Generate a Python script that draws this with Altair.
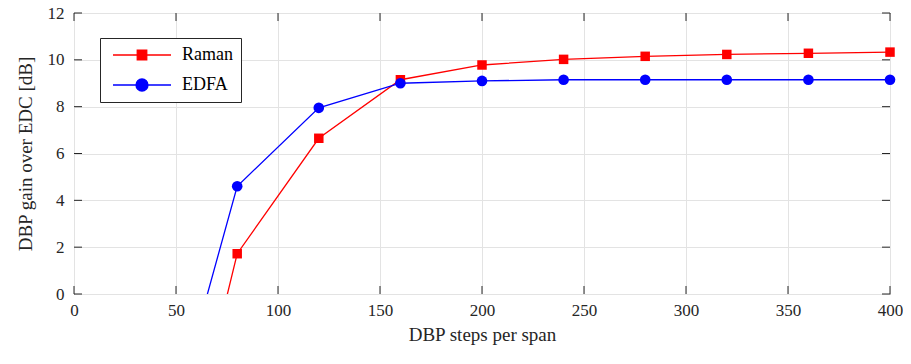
import altair as alt
import pandas as pd

steps = [40, 80, 120, 160, 200, 240, 280, 320, 360, 400]
raman = [-12.6, 1.72, 6.65, 9.15, 9.78, 10.02, 10.15, 10.23, 10.28, 10.33]
edfa = [-8.0, 4.6, 7.95, 9.0, 9.1, 9.15, 9.15, 9.15, 9.15, 9.15]
series = ["Raman", "EDFA"]
colors = ["#ff0000", "#0000ff"]
x_ticks = [0, 50, 100, 150, 200, 250, 300, 350, 400]
y_ticks = [0, 2, 4, 6, 8, 10, 12]

rows = []
for s, vals in zip(series, [raman, edfa]):
    for x, v in zip(steps, vals):
        rows.append({"steps": x, "gain": v, "series": s, "label": s})
df = pd.DataFrame(rows)

W, H = 816, 281
FONT = "Liberation Serif"
LFONT = "Times New Roman"
TXT = "#262626"

xs = alt.Scale(domain=[0, 400], nice=False)
ys = alt.Scale(domain=[0, 12], nice=False)

xaxis = alt.Axis(values=x_ticks, title="DBP steps per span", tickSize=0, domain=False,
                 labelPadding=8, titlePadding=7, grid=True, labelFlush=False,
                 labelFont=LFONT, labelFontSize=17, labelFontWeight="normal", titleFont=FONT)
yaxis = alt.Axis(values=y_ticks, title="DBP gain over EDC [dB]", tickSize=0, domain=False,
                 labelPadding=10, titlePadding=12, grid=True, labelFlush=False,
                 labelFont=LFONT, labelFontSize=17, labelFontWeight="normal", titleFont=FONT)

base = alt.Chart(df)

lines = base.mark_line(clip=True, strokeWidth=1.3).encode(
    x=alt.X("steps:Q", scale=xs, axis=xaxis),
    y=alt.Y("gain:Q", scale=ys, axis=yaxis),
    color=alt.Color("series:N", scale=alt.Scale(domain=series, range=colors), legend=None),
    detail="series:N",
)

pts = base.transform_filter(alt.datum.gain >= 0).mark_point(filled=True, opacity=1).encode(
    x=alt.X("steps:Q", scale=xs),
    y=alt.Y("gain:Q", scale=ys),
    color=alt.Color("series:N", scale=alt.Scale(domain=series, range=colors), legend=None),
    shape=alt.Shape("series:N", scale=alt.Scale(domain=series, range=["square", "circle"]), legend=None),
    size=alt.Size("series:N", scale=alt.Scale(domain=series, range=[90, 113]), legend=None),
)

sq = "M-5.8,0H5.8M-0.95,-0.95H0.95V0.95H-0.95Z"
ci = "M-5.8,0H5.8M1.2,0A1.2,1.2 0 1,1 -1.2,0A1.2,1.2 0 1,1 1.2,0Z"

leg = alt.Legend(title=None, orient="none", legendX=26, legendY=25,
                 fillColor="white", strokeColor="#262626", padding=8,
                 symbolSize=100, symbolOffset=25, labelOffset=31,
                 rowPadding=12, symbolOpacity=1, symbolStrokeWidth=1.3,
                 labelFont=LFONT, labelFontSize=18, labelFontWeight="normal",
                 labelColor="black", cornerRadius=0)

legend_layer = base.transform_filter(alt.datum.gain > 1000).mark_point(
    filled=False, opacity=1, fillOpacity=1, strokeOpacity=1
).encode(
    x=alt.X("steps:Q", scale=xs),
    y=alt.Y("gain:Q", scale=ys),
    fill=alt.Fill("label:N", scale=alt.Scale(domain=series, range=colors), legend=leg),
    stroke=alt.Stroke("label:N", scale=alt.Scale(domain=series, range=colors), legend=leg),
    shape=alt.Shape("label:N", scale=alt.Scale(domain=series, range=[sq, ci]), legend=leg),
)

xt_vals = pd.DataFrame({"v": x_ticks})
yt_vals = pd.DataFrame({"v": y_ticks})
tick_col = "#262626"
xb = alt.Chart(xt_vals).mark_rule(color=tick_col, strokeWidth=1).encode(
    x=alt.X("v:Q", scale=xs), y=alt.value(H), y2=alt.value(H - 8))
xt = alt.Chart(xt_vals).mark_rule(color=tick_col, strokeWidth=1).encode(
    x=alt.X("v:Q", scale=xs), y=alt.value(0), y2=alt.value(8))
yl = alt.Chart(yt_vals).mark_rule(color=tick_col, strokeWidth=1).encode(
    y=alt.Y("v:Q", scale=ys), x=alt.value(0), x2=alt.value(8))
yr = alt.Chart(yt_vals).mark_rule(color=tick_col, strokeWidth=1).encode(
    y=alt.Y("v:Q", scale=ys), x=alt.value(W), x2=alt.value(W - 8))

chart = alt.layer(lines, legend_layer, pts, xb, xt, yl, yr).resolve_scale(
    color="independent", shape="independent", fill="independent", stroke="independent"
).properties(
    width=W, height=H,
    autosize=alt.AutoSizeParams(type="none"),
    padding={"left": 66, "top": 5, "right": 13, "bottom": 55}
).configure(
    font=FONT, background="white",
    style={"guide-label": {"font": LFONT, "fontSize": 17},
           "guide-title": {"font": FONT}}
).configure_view(
    stroke="#262626", strokeWidth=1
).configure_axis(
    labelFont=LFONT, labelFontSize=17, labelColor=TXT,
    titleFont=FONT, titleFontSize=19, titleColor=TXT, titleFontWeight="normal",
    gridColor="#e3e3e3", gridWidth=1,
).configure_legend(
    labelFont=LFONT
)

chart.save("out.html", embed_options={"renderer": "svg", "actions": False})
